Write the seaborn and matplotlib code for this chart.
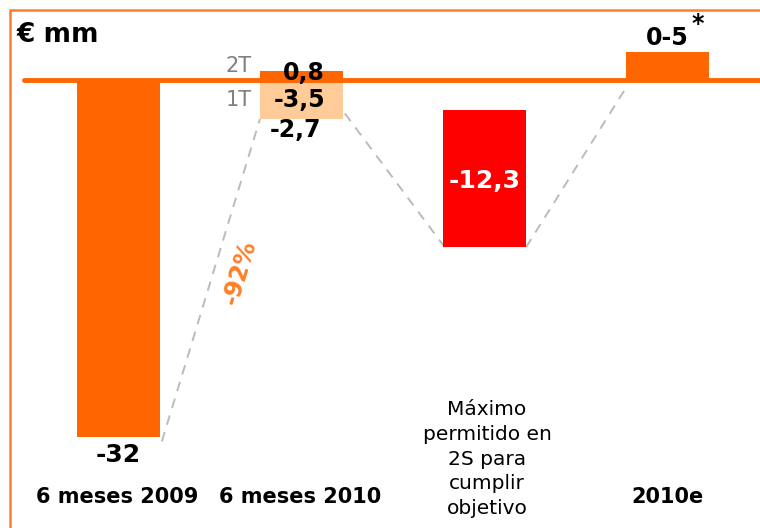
import matplotlib
matplotlib.use("Agg")
import matplotlib.pyplot as plt
import seaborn as sns
import pandas as pd
from matplotlib.lines import Line2D

# ---- data ----
categories = ["6 meses 2009", "6 meses 2010", "Máximo\npermitido en\n2S para\ncumplir\nobjetivo", "2010e"]
h1_2009 = -32.0
q1_2010 = -3.5
q2_2010 = 0.8
h1_2010 = -2.7
max_2s = -12.3
est_2010 = 2.5          # bar drawn for the "0-5" range
value_labels = ["-32", "0,8", "-3,5", "-2,7", "-12,3", "0-5"]
quarter_labels = ["2T", "1T"]
pct_label = "-92%"
unit_label = "€ mm"

ORANGE = "#FF6600"
PEACH = "#FFCC99"
RED = "#FF0000"
FRAME = "#FF7F27"
GRAY = "#BBBBBB"

sns.set_style("white")
plt.rcParams["font.family"] = ["DejaVu Sans"]
plt.rcParams["text.color"] = "black"

fig = plt.figure(figsize=(7.6, 5.28), dpi=100)
ax = fig.add_axes([0, 0, 1, 1])

W = 0.454
base = pd.DataFrame({
    "cat": [categories[0], categories[1], categories[3]],
    "val": [h1_2009, q1_2010, est_2010],
    "col": ["a", "b", "c"],
})
sns.barplot(data=base, x="cat", y="val", hue="col", order=categories,
            palette={"a": ORANGE, "b": PEACH, "c": ORANGE}, width=W,
            legend=False, ax=ax, saturation=1, errorbar=None, linewidth=0)
q2 = pd.DataFrame({"cat": [categories[1]], "val": [q2_2010]})
sns.barplot(data=q2, x="cat", y="val", order=categories, color=ORANGE, width=W,
            ax=ax, saturation=1, errorbar=None, linewidth=0)
ax.bar(2, max_2s, bottom=h1_2010, width=W, color=RED, linewidth=0, zorder=3)

bottom_red = h1_2010 + max_2s

# baseline
ax.axhline(0, xmin=(24 / 760), xmax=1, color=ORANGE, lw=3.5, solid_capstyle="round", zorder=4)

# dashed connectors
dk = dict(color=GRAY, lw=1.4, ls=(0, (5, 4)), zorder=2)
ax.plot([W / 2 + 0.01, 1 - W / 2], [h1_2009 - 0.4, q1_2010], **dk)
ax.plot([1 + W / 2 + 0.01, 2 - W / 2 + 0.01], [q1_2010 + 0.5, bottom_red], **dk)
ax.plot([2 + W / 2, 3 - W / 2], [bottom_red, -0.7], **dk)

ax.set_xlim(-0.6475, 3.5055)
ax.set_ylim(-40.16, 7.17)
ax.axis("off")

bold = dict(fontweight="bold", color="black", ha="center", va="center")
ax.text(0, h1_2009 - 1.6, value_labels[0], fontsize=18, **bold)
ax.text(1.01, 0.62, value_labels[1], fontsize=17, zorder=6, **bold)
ax.text(0.99, q1_2010 / 2 - 0.05, value_labels[2], fontsize=17, zorder=6, **bold)
ax.text(0.965, q1_2010 - 1.0, value_labels[3], fontsize=17, **bold)
ax.text(2, h1_2010 + max_2s / 2 - 0.2, value_labels[4], fontsize=18, zorder=6,
        fontweight="bold", color="white", ha="center", va="center")
ax.text(3.0, est_2010 + 1.3, value_labels[5], fontsize=17, **bold)
ax.text(3.165, est_2010 + 2.55, "*", fontsize=17, **bold)

ax.text(0.73, 1.25, quarter_labels[0], fontsize=15, color="#808080", ha="right", va="center")
ax.text(0.73, q1_2010 / 2 - 0.05, quarter_labels[1], fontsize=15, color="#808080", ha="right", va="center")

ax.text(0.664, -17.2, pct_label, fontsize=17, fontweight="bold", color=FRAME,
        rotation=73, ha="center", va="center", rotation_mode="anchor")

# category labels
for i, c in enumerate(categories):
    if i == 2:
        ax.text(2.014, -34.0, c, fontsize=14.5, color="black", ha="center", va="center",
                linespacing=1.38)
    else:
        ax.text(i - 0.005 if i < 3 else 3.0, -37.4, c, fontsize=15, **bold)

fig.text(17 / 760, 1 - 35 / 528, unit_label, fontsize=19, fontweight="bold", color="black",
         ha="left", va="center")

# frame (top and left visible)
fig.add_artist(Line2D([10 / 760, 10 / 760], [0, 1 - 10 / 528], color=FRAME, lw=1.8, transform=fig.transFigure))
fig.add_artist(Line2D([10 / 760, 1], [1 - 10 / 528, 1 - 10 / 528], color=FRAME, lw=1.8, transform=fig.transFigure))

fig.savefig("out.png", dpi=100, facecolor="white")
